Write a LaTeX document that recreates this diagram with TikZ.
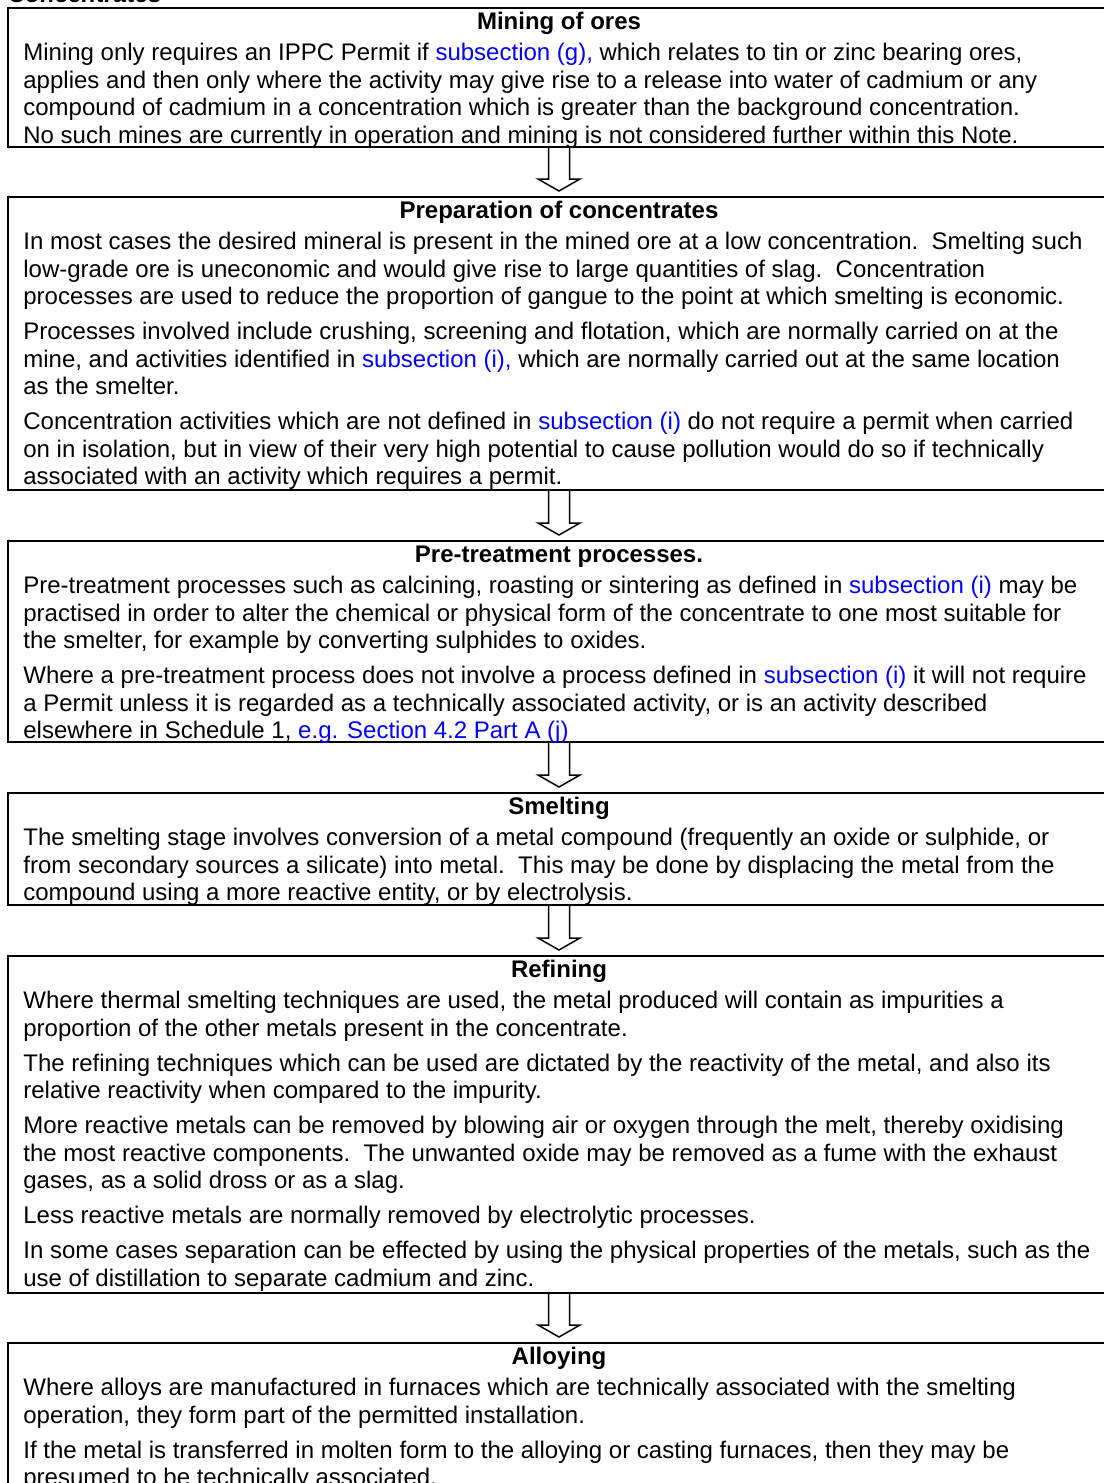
\documentclass[tikz,border=0pt]{standalone}
\usepackage{fontspec}
\setmainfont{Liberation Sans}
\usetikzlibrary{fit}
\definecolor{linkblue}{HTML}{0000FF}
\definecolor{ink}{HTML}{000000}
\newcommand{\lnk}[1]{\textcolor{linkblue}{#1}}
\newcommand{\firstline}{\rule{0pt}{10pt}}

\begin{document}
\begin{tikzpicture}[x=0.5pt, y=-0.5pt,
  stagebox/.style={draw=ink, line width=1pt, inner sep=0pt, fit={#1}},
  stagetitle/.style={anchor=base, inner sep=0pt, font=\fontsize{12pt}{13.75pt}\selectfont\bfseries},
  stagetext/.style={anchor=north west, inner sep=0pt, align=left,
    font=\fontsize{12pt}{13.75pt}\selectfont, execute at begin node=\firstline},
  blockarrow/.style={draw=ink, line width=0.75pt, line join=miter}]

\useasboundingbox (0,0) rectangle (1103,1483);

% heading, cut by the top edge
\node[anchor=base west, inner sep=0pt, font=\fontsize{12pt}{13.75pt}\selectfont\bfseries\itshape] (heading) at (8,3) {Concentrates};

% =====================================================
% Stage boxes
% =====================================================
\node[stagebox={(8,8) (1110,147)}] (mining) {};
\node[stagebox={(8,197) (1110,490)}] (prep) {};
\node[stagebox={(8,541) (1110,742)}] (pretreat) {};
\node[stagebox={(8,793) (1110,905)}] (smelt) {};
\node[stagebox={(8,956) (1110,1293)}] (refine) {};
\node[stagebox={(8,1343) (1110,1520)}] (alloy) {};

% =====================================================
% Mining of ores
% =====================================================
\node[stagetitle] (miningtitle) at ([yshift=-11.25pt]mining.north) {Mining of ores};
\node[stagetext] (miningtext) at ([xshift=8pt, yshift=-18pt]mining.north west) {%
Mining only requires an IPPC Permit if \lnk{subsection (g),} which relates to tin or zinc bearing ores,\\
applies and then only where the activity may give rise to a release into water of cadmium or any\\
compound of cadmium in a concentration which is greater than the background concentration.\\
No such mines are currently in operation and mining is not considered further within this Note.};

% =====================================================
% Preparation of concentrates
% =====================================================
\node[stagetitle] (preptitle) at ([yshift=-11.25pt]prep.north) {Preparation of concentrates};
\node[stagetext] (preptext) at ([xshift=8pt, yshift=-18pt]prep.north west) {%
In most cases the desired mineral is present in the mined ore at a low concentration.\ \ Smelting such\\
low-grade ore is uneconomic and would give rise to large quantities of slag.\ \ Concentration\\
processes are used to reduce the proportion of gangue to the point at which smelting is economic.\\[3.75pt]
Processes involved include crushing, screening and flotation, which are normally carried on at the\\
mine, and activities identified in \lnk{subsection (i),} which are normally carried out at the same location\\
as the smelter.\\[3.75pt]
Concentration activities which are not defined in \lnk{subsection (i)} do not require a permit when carried\\
on in isolation, but in view of their very high potential to cause pollution would do so if technically\\
associated with an activity which requires a permit.};

% =====================================================
% Pre-treatment processes
% =====================================================
\node[stagetitle] (pretreattitle) at ([yshift=-11.25pt]pretreat.north) {Pre-treatment processes.};
\node[stagetext] (pretreattext) at ([xshift=8pt, yshift=-18pt]pretreat.north west) {%
Pre-treatment processes such as calcining, roasting or sintering as defined in \lnk{subsection (i)} may be\\
practised in order to alter the chemical or physical form of the concentrate to one most suitable for\\
the smelter, for example by converting sulphides to oxides.\\[3.75pt]
Where a pre-treatment process does not involve a process defined in \lnk{subsection (i)} it will not require\\
a Permit unless it is regarded as a technically associated activity, or is an activity described\\
elsewhere in Schedule 1, \lnk{e.g. Section 4.2 Part A (j)}};

% =====================================================
% Smelting
% =====================================================
\node[stagetitle] (smelttitle) at ([yshift=-11.25pt]smelt.north) {Smelting};
\node[stagetext] (smelttext) at ([xshift=8pt, yshift=-18pt]smelt.north west) {%
The smelting stage involves conversion of a metal compound (frequently an oxide or sulphide, or\\
from secondary sources a silicate) into metal.\ \ This may be done by displacing the metal from the\\
compound using a more reactive entity, or by electrolysis.};

% =====================================================
% Refining
% =====================================================
\node[stagetitle] (refinetitle) at ([yshift=-11.25pt]refine.north) {Refining};
\node[stagetext] (refinetext) at ([xshift=8pt, yshift=-18pt]refine.north west) {%
Where thermal smelting techniques are used, the metal produced will contain as impurities a\\
proportion of the other metals present in the concentrate.\\[3.75pt]
The refining techniques which can be used are dictated by the reactivity of the metal, and also its\\
relative reactivity when compared to the impurity.\\[3.75pt]
More reactive metals can be removed by blowing air or oxygen through the melt, thereby oxidising\\
the most reactive components.\ \ The unwanted oxide may be removed as a fume with the exhaust\\
gases, as a solid dross or as a slag.\\[3.75pt]
Less reactive metals are normally removed by electrolytic processes.\\[3.75pt]
In some cases separation can be effected by using the physical properties of the metals, such as the\\
use of distillation to separate cadmium and zinc.};

% =====================================================
% Alloying
% =====================================================
\node[stagetitle] (alloytitle) at ([yshift=-11.25pt]alloy.north) {Alloying};
\node[stagetext] (alloytext) at ([xshift=8pt, yshift=-18pt]alloy.north west) {%
Where alloys are manufactured in furnaces which are technically associated with the smelting\\
operation, they form part of the permitted installation.\\[3.75pt]
If the metal is transferred in molten form to the alloying or casting furnaces, then they may be\\
presumed to be technically associated.};

% =====================================================
% Hollow arrows between the stages
% =====================================================
\foreach \a/\b in {mining/prep, prep/pretreat, pretreat/smelt, smelt/refine, refine/alloy}
  \draw[blockarrow] ([xshift=-5.25pt]\a.south) -- ([xshift=-5.25pt, yshift=8.5pt]\b.north)
    -- ([xshift=-10.5pt, yshift=8.5pt]\b.north) -- ([yshift=2.5pt]\b.north)
    -- ([xshift=10.5pt, yshift=8.5pt]\b.north) -- ([xshift=5.25pt, yshift=8.5pt]\b.north)
    -- ([xshift=5.25pt]\a.south);

\end{tikzpicture}
\end{document}
